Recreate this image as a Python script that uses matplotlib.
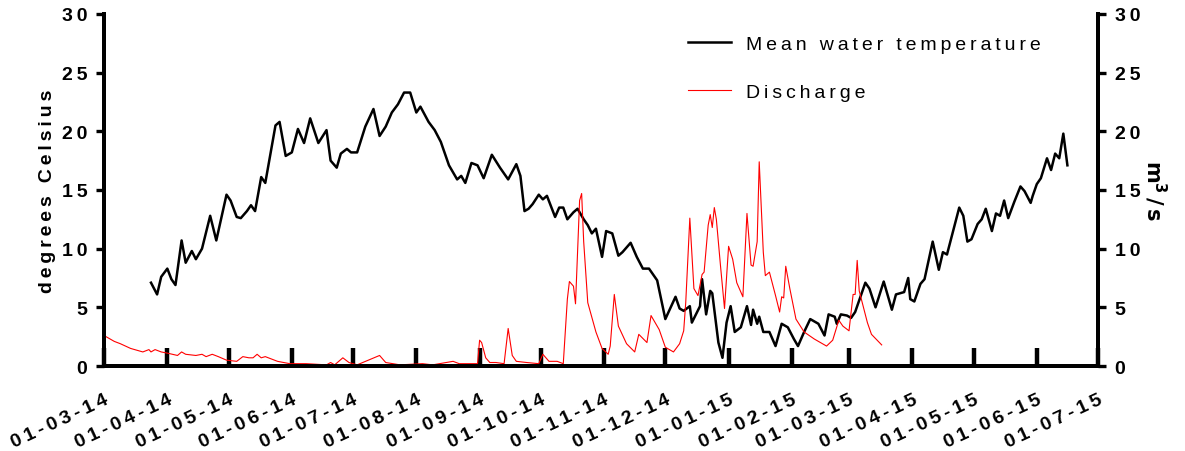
#!/usr/bin/env python3

import pandas as pd
import matplotlib
matplotlib.use("Agg")
import matplotlib.pyplot as plt

plt.rcParams['font.family'] = ['Liberation Sans', 'DejaVu Sans']
plt.rcParams['font.weight'] = 'bold'

start = pd.Timestamp("2014-03-01")
end = pd.Timestamp("2015-07-01")

# mean water temperature: (days since 01-03-14, degrees C)
temp_days = [23, 26, 28, 31, 33, 35, 38, 40, 43, 45, 48, 52, 55, 60, 62, 65, 67, 70, 72, 74,
             77, 79, 84, 86, 89, 92, 95, 98, 101, 105, 109, 111, 114, 116, 119, 121, 124, 128,
             132, 135, 138, 141, 144, 147, 150, 153, 155, 159, 162, 165, 169, 173, 175, 177,
             180, 183, 186, 190, 194, 198, 202, 204, 206, 208, 210, 213, 215, 217, 221, 223,
             225, 227, 230, 232, 235, 237, 239, 241, 244, 246, 249, 252, 254, 258, 261, 264,
             267, 271, 275, 280, 282, 284, 287, 288, 290, 292, 293, 295, 297, 298, 301, 303,
             305, 307, 309, 312, 315, 317, 318, 320, 321, 323, 326, 329, 332, 335, 338, 340,
             343, 346, 350, 353, 355, 358, 359, 361, 364, 366, 368, 370, 373, 375, 378, 382,
             386, 388, 392, 394, 395, 397, 400, 402, 406, 409, 411, 413, 419, 421, 423, 425,
             428, 430, 432, 435, 437, 439, 441, 443, 446, 449, 451, 454, 455, 457, 459, 462,
             464, 466, 468, 470, 472]
temp_vals = [7.1, 6.1, 7.6, 8.3, 7.4, 6.9, 10.7, 8.8, 9.8, 9.1, 10.0, 12.8, 10.7, 14.6, 14.1, 12.7,
             12.6, 13.2, 13.7, 13.2, 16.1, 15.6, 20.5, 20.8, 17.9, 18.2, 20.2, 19.0, 21.1, 19.0,
             20.1, 17.5, 16.9, 18.1, 18.5, 18.2, 18.2, 20.4, 21.9, 19.6, 20.4, 21.6, 22.3, 23.3,
             23.3, 21.6, 22.1, 20.8, 20.1, 19.1, 17.1, 15.9, 16.2, 15.6, 17.3, 17.1, 16.0, 18.0,
             16.9, 15.9, 17.2, 16.2, 13.2, 13.4, 13.8, 14.6, 14.2, 14.5, 12.7, 13.5, 13.5, 12.5,
             13.1, 13.4, 12.5, 12.0, 11.3, 11.7, 9.3, 11.5, 11.3, 9.4, 9.7, 10.5, 9.3, 8.3, 8.3,
             7.3, 4.0, 5.9, 4.9, 4.7, 5.1, 3.7, 4.4, 5.1, 7.4, 4.4, 6.4, 6.2, 2.0, 0.7, 3.7, 5.1,
             2.9, 3.3, 5.1, 3.5, 4.8, 3.6, 4.2, 2.9, 2.9, 1.7, 3.6, 3.3, 2.3, 1.7, 2.9, 4.0, 3.6,
             2.6, 4.4, 4.2, 3.6, 4.4, 4.3, 4.1, 4.6, 5.6, 7.1, 6.6, 5.0, 7.2, 4.8, 6.1, 6.3, 7.5,
             5.7, 5.5, 7.0, 7.4, 10.6, 8.2, 9.7, 9.5, 13.5, 12.8, 10.6, 10.8, 12.1, 12.5, 13.4,
             11.5, 13.0, 12.8, 14.1, 12.6, 14.0, 15.3, 14.9, 13.9, 14.5, 15.5, 16.0, 17.7, 16.7,
             18.1, 17.7, 19.8, 17.1]

# discharge: (days since 01-03-14, m3/s)
flow_days = [0, 5, 8, 13, 19, 22, 23, 25, 28, 31, 36, 38, 40, 45, 48, 50, 53, 56, 60, 65, 68,
             71, 73, 75, 77, 79, 85, 91, 99, 109, 111, 113, 117, 120, 124, 135, 138, 145, 156,
             161, 171, 174, 183, 184, 185, 187, 189, 192, 196, 198, 200, 202, 207, 213, 215,
             218, 222, 225, 227, 228, 230, 231, 233, 234, 235, 237, 241, 244, 247, 248, 250,
             252, 256, 260, 262, 266, 268, 272, 275, 279, 282, 284, 285, 287, 289, 291, 293,
             294, 296, 297, 298, 299, 300, 302, 304, 306, 308, 310, 313, 315, 317, 318, 320,
             321, 323, 324, 326, 329, 331, 332, 333, 334, 336, 339, 343, 348, 354, 357, 360,
             362, 365, 367, 368, 369, 370, 374, 376, 381]
flow_vals = [2.6, 2.1, 1.9, 1.5, 1.2, 1.4, 1.2, 1.4, 1.2, 1.1, 0.9, 1.2, 1.0, 0.9, 1.0, 0.8, 1.0,
             0.8, 0.5, 0.4, 0.8, 0.7, 0.7, 1.0, 0.7, 0.8, 0.4, 0.2, 0.2, 0.1, 0.3, 0.1, 0.7, 0.3,
             0.1, 0.9, 0.3, 0.1, 0.2, 0.1, 0.4, 0.2, 0.2, 2.2, 2.0, 0.7, 0.3, 0.3, 0.2, 3.2, 0.9,
             0.4, 0.3, 0.2, 1.0, 0.4, 0.4, 0.2, 5.7, 7.2, 6.8, 5.3, 14.1, 14.7, 10.6, 5.4, 2.9,
             1.5, 1.0, 1.7, 6.1, 3.4, 1.9, 1.2, 2.7, 2.0, 4.3, 3.1, 1.6, 1.2, 1.9, 3.0, 5.4, 12.6,
             6.6, 6.0, 7.8, 8.0, 12.0, 12.9, 11.8, 13.5, 12.5, 8.6, 4.9, 10.2, 9.1, 7.1, 5.9,
             13.0, 8.6, 8.5, 10.6, 17.4, 9.7, 7.7, 8.0, 6.0, 4.6, 5.9, 5.8, 8.5, 6.6, 4.0, 2.9,
             2.3, 1.7, 2.2, 3.9, 3.4, 3.0, 6.1, 6.1, 9.0, 6.4, 3.7, 2.7, 1.8]

tick_dates = pd.date_range(start, end, freq="MS")


def spaced(s):
    return "\u2009".join(s)


temp_x = start + pd.to_timedelta(temp_days, unit="D")
flow_x = start + pd.to_timedelta(flow_days, unit="D")

fig = plt.figure(figsize=(11.85, 4.52), dpi=100)
ax = fig.add_axes([0.0878, 0.188, 0.8388, 0.779])
ax2 = ax.twinx()

l1, = ax.plot(temp_x, temp_vals, color="black", lw=1.8, label=spaced("Mean water temperature"))
l2, = ax2.plot(flow_x, flow_vals, color="red", lw=0.8, label=spaced("Discharge"))

for a in (ax, ax2):
    a.set_xlim(start, end)
    a.set_ylim(0, 30)
    a.set_yticks(range(0, 31, 5))
    a.set_yticklabels([spaced(str(v)) for v in range(0, 31, 5)], fontsize=14, fontweight="bold")
    for s in a.spines.values():
        s.set_linewidth(2.8)
    a.spines["top"].set_visible(False)
    a.tick_params(axis="y", length=6, width=2.4, pad=6)

ax.set_xticks(tick_dates)
ax.set_xticklabels([spaced(d.strftime("%d-%m-%y")) for d in tick_dates],
                   rotation=25, ha="right", rotation_mode="anchor", fontsize=14, fontweight="bold")
ax.tick_params(axis="x", direction="in", length=13, width=3.2, pad=18)

ax.set_ylabel(spaced("degrees Celsius"), fontsize=14, fontweight="bold", labelpad=4)
ax2.set_ylabel(r"$\mathbf{m^{3}\,/\,s}$", fontsize=15, rotation=-90, labelpad=20)

leg = ax.legend(handles=[l1, l2], loc="upper left", bbox_to_anchor=(0.57, 0.99),
                frameon=False, fontsize=14, handlelength=2.2, labelspacing=1.6,
                handletextpad=0.8)
for t in leg.get_texts():
    t.set_fontweight("normal")

fig.savefig("out.png", dpi=100)
plt.close(fig)
